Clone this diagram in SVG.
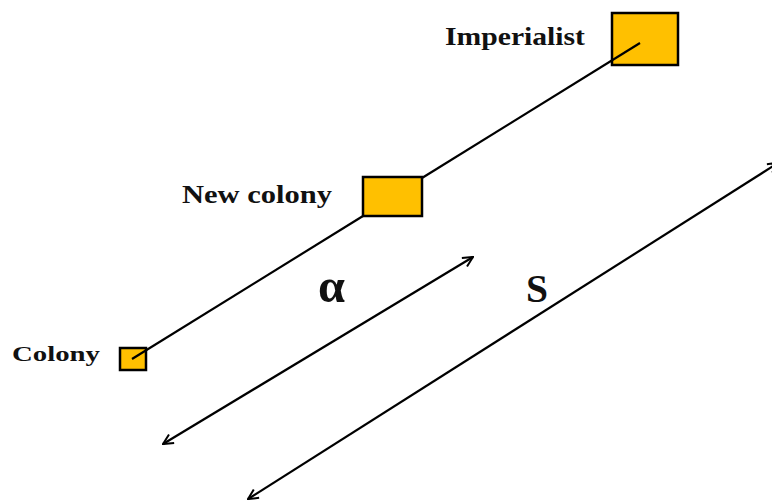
<svg xmlns="http://www.w3.org/2000/svg" width="772" height="503" viewBox="0 0 772 503">
<defs>
<style>
.box{fill:#FFC000;stroke:#000;stroke-width:2.5}
.ln{stroke:#000;stroke-width:2.2;fill:none}
.lbl{font-family:"Liberation Serif","Times New Roman",serif;font-weight:bold;fill:#111}
</style>
<marker id="ah" viewBox="0 0 12 12" refX="11" refY="6" markerWidth="12" markerHeight="12" markerUnits="userSpaceOnUse" orient="auto-start-reverse">
<path d="M1,1 L11,6 L1,11" fill="none" stroke="#000" stroke-width="2"/>
</marker>
</defs>
<rect width="772" height="503" fill="#fff"/>
<g id="imperialist">
<rect class="box" x="612" y="13" width="66" height="52"/>
<text class="lbl" x="445" y="45" font-size="25" textLength="140" lengthAdjust="spacingAndGlyphs">Imperialist</text>
</g>
<g id="new-colony">
<rect class="box" x="363" y="177" width="59" height="39"/>
<text class="lbl" x="182" y="203" font-size="25" textLength="150" lengthAdjust="spacingAndGlyphs">New colony</text>
</g>
<g id="colony">
<rect class="box" x="120" y="348" width="26" height="22"/>
<text class="lbl" x="12" y="361" font-size="22" textLength="88" lengthAdjust="spacingAndGlyphs">Colony</text>
</g>
<g id="connectors">
<line class="ln" x1="132" y1="359" x2="363" y2="216"/>
<line class="ln" x1="422" y1="178" x2="640" y2="43"/>
<line class="ln" x1="163" y1="444" x2="473" y2="257" marker-start="url(#ah)" marker-end="url(#ah)"/>
<line class="ln" x1="248" y1="499" x2="778" y2="163" marker-start="url(#ah)" marker-end="url(#ah)"/>
</g>
<g id="labels">
<text class="lbl" x="318" y="302" font-size="48" textLength="27" lengthAdjust="spacingAndGlyphs">α</text>
<text class="lbl" x="526" y="302" font-size="40" textLength="22" lengthAdjust="spacingAndGlyphs">S</text>
</g>
</svg>
